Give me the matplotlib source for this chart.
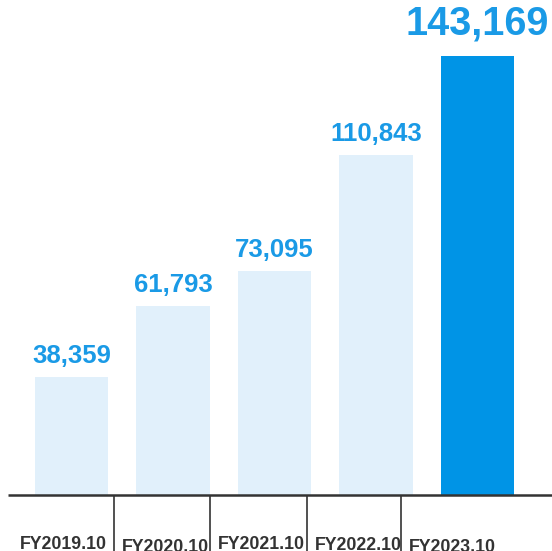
import matplotlib
matplotlib.rcParams['font.family'] = ['Liberation Sans', 'DejaVu Sans']
import matplotlib.pyplot as plt
import numpy as np

years = ['FY2019.10', 'FY2020.10', 'FY2021.10', 'FY2022.10', 'FY2023.10']
values = [38359, 61793, 73095, 110843, 143169]


def draw():
    fig = plt.figure(figsize=(5.52, 5.51), dpi=100)
    ax = fig.add_axes([0, 0, 1, 1])

    x = np.arange(len(values))
    colors = ['#e1f0fb'] * (len(values) - 1) + ['#0094e6']
    ax.bar(x, values, width=0.72, color=colors, zorder=1)

    # value labels, last one bigger
    for i, v in enumerate(values):
        last = i == len(values) - 1
        ax.annotate('{:,}'.format(v), (i, v), xytext=(0, 10 if last else 6.5),
                    textcoords='offset points', ha='center', va='bottom',
                    fontsize=28.5 if last else 18.5, fontweight='bold',
                    color='#1a9ae6')

    ax.set_xlim(-0.704, 4.734)
    ax.set_ylim(-18264, 161448)

    # baseline + separators
    ax.hlines(0, -0.626, 4.734, color='#333333', lw=1.8, zorder=3)
    seps = [0.419, 1.364, 2.32, 3.246]
    for s in seps:
        ax.vlines(s, -18264, 0, color='#333333', lw=1.2, zorder=3)

    starts = [-0.586, 0.419, 1.364, 2.32, 3.246]
    offs = [-16300, -17000, -16300, -16600, -17000]
    for s, lab, o in zip(starts, years, offs):
        ax.text(s + 0.08, o, lab, ha='left', va='center', fontsize=12.8,
                fontweight='bold', color='#333333')

    ax.axis('off')
    fig.savefig('out.png', dpi=100)


if __name__ == "__main__":
    draw()
